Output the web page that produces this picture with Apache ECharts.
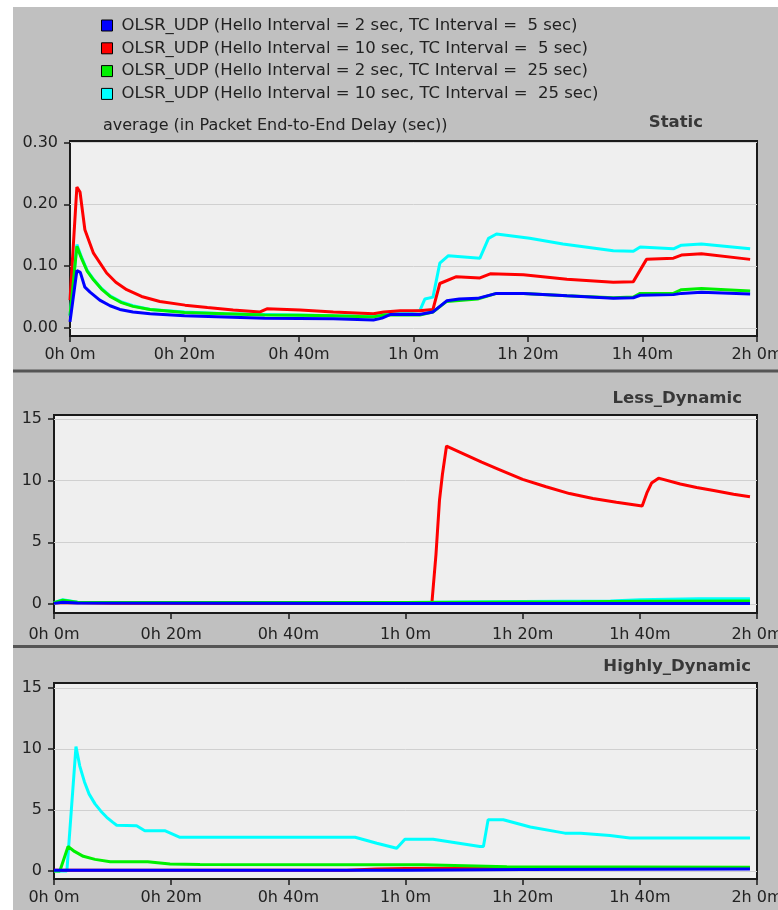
<!DOCTYPE html>
<html><head><meta charset="utf-8">
<script src="https://cdn.jsdelivr.net/npm/echarts@6/dist/echarts.min.js"></script>
<style>html,body{margin:0;padding:0;background:#fff}#c{width:778px;height:910px}</style>
</head><body><div id="c"></div>
<script>
// ---------- data ----------
const seriesNames = [
  'OLSR_UDP (Hello Interval = 2 sec, TC Interval =  5 sec)',
  'OLSR_UDP (Hello Interval = 10 sec, TC Interval =  5 sec)',
  'OLSR_UDP (Hello Interval = 2 sec, TC Interval =  25 sec)',
  'OLSR_UDP (Hello Interval = 10 sec, TC Interval =  25 sec)'
];
const seriesColors = ['#0000ff', '#ff0000', '#00f000', '#00ffff'];
const panelTitles = ['Static', 'Less_Dynamic', 'Highly_Dynamic'];
const yAxisTitle = 'average (in Packet End-to-End Delay (sec))';
const xTickValues = [0, 20, 40, 60, 80, 100, 120];
const xTickLabels = ['0h 0m', '0h 20m', '0h 40m', '1h 0m', '1h 20m', '1h 40m', '2h 0m'];
const staticYTicks = [0, 0.1, 0.2, 0.3];
const dynamicYTicks = [0, 5, 10, 15];

// time in minutes, value in seconds
const staticBlue = [[0,0.010],[1.2,0.093],[1.8,0.090],[2.6,0.066],[3.5,0.058],[5.2,0.045],[7,0.036],[8.7,0.030],[11,0.026],[14,0.023],[20,0.020],[27,0.018],[34,0.016],[40,0.0155],[46,0.015],[53,0.013],[54.5,0.016],[56,0.022],[58,0.022],[61,0.022],[63.4,0.026],[65.8,0.044],[68,0.047],[71.2,0.048],[74.5,0.056],[79.2,0.056],[86.8,0.052],[94.9,0.048],[98.4,0.049],[99.6,0.053],[105.4,0.054],[106.8,0.056],[110.3,0.058],[118.8,0.055]];
const staticRed = [[0,0.045],[1.2,0.228],[1.75,0.220],[2.6,0.159],[4.1,0.121],[6.4,0.089],[8,0.074],[9.9,0.062],[12.5,0.051],[15.7,0.043],[20.1,0.037],[24,0.033],[28.5,0.029],[33.2,0.026],[34.4,0.031],[40.2,0.029],[46,0.026],[53,0.023],[54.8,0.026],[57.7,0.028],[61,0.028],[63.4,0.030],[64.6,0.072],[67.5,0.083],[71.6,0.081],[73.4,0.0876],[79.2,0.086],[86.8,0.079],[94.9,0.074],[98.4,0.075],[100.7,0.111],[105.4,0.113],[106.8,0.118],[110.3,0.120],[118.8,0.111]];
const staticGreen = [[0,0.020],[1.2,0.132],[2,0.113],[3,0.092],[4.1,0.078],[5.5,0.063],[7,0.051],[9,0.041],[11,0.035],[14,0.030],[20,0.025],[27,0.023],[34,0.021],[40,0.0205],[46,0.020],[53,0.018],[55,0.021],[57,0.021],[61.1,0.021],[63.4,0.026],[65.8,0.043],[71.2,0.047],[74.5,0.056],[79.2,0.056],[86.8,0.052],[94.9,0.049],[98.4,0.050],[99.6,0.056],[105.4,0.056],[106.8,0.062],[110.3,0.064],[118.8,0.060]];
const staticCyan = [[0,0.020],[1.2,0.135],[2,0.115],[3,0.093],[4.1,0.079],[5.5,0.064],[7,0.052],[9,0.042],[11,0.036],[14,0.030],[20,0.026],[27,0.023],[34,0.022],[40,0.021],[46,0.020],[53,0.019],[55,0.024],[58,0.025],[61.1,0.028],[62,0.047],[63.4,0.050],[64.6,0.105],[66.1,0.117],[71.6,0.113],[73.1,0.145],[74.5,0.152],[80.3,0.145],[86.1,0.136],[94.9,0.125],[98.4,0.124],[99.6,0.131],[105.4,0.128],[106.8,0.134],[110.3,0.136],[118.8,0.128]];

const lessBlue = [[0,0.05],[1.5,0.15],[4,0.08],[60,0.05],[118.8,0.05]];
const lessRed = [[0,0.10],[2,0.12],[10,0.06],[30,0.05],[64.5,0.05],[65.2,4.0],[65.8,8.4],[66.3,10.5],[67,12.8],[70,12.15],[73,11.5],[76,10.9],[80,10.1],[84,9.5],[88,8.95],[92,8.55],[96,8.25],[100.4,7.95],[101.2,9.0],[102,9.8],[103.2,10.2],[106.9,9.73],[109.7,9.45],[112.6,9.2],[116,8.9],[118.8,8.7]];
const lessGreen = [[0,0.10],[1.5,0.30],[4,0.15],[30,0.12],[60,0.12],[90,0.18],[100,0.22],[118.8,0.25]];
const lessCyan = [[0,0.10],[1.5,0.35],[4,0.15],[30,0.12],[60,0.12],[80,0.20],[95,0.25],[100,0.35],[110,0.42],[118.8,0.42]];

const highBlue = [[0,0.05],[60,0.05],[80,0.12],[118.8,0.15]];
const highRed = [[0,0.05],[50,0.05],[55,0.15],[60,0.20],[80,0.25],[118.8,0.25]];
const highGreen = [[0,0],[1,0],[2.4,2.0],[3.5,1.6],[5,1.2],[7,0.95],[9.6,0.76],[16,0.76],[19.8,0.57],[24.9,0.52],[60,0.50],[63,0.50],[77.3,0.35],[118.8,0.30]];
const highCyan = [[0,0],[2.2,0],[3.75,10.2],[4.4,8.6],[5.2,7.3],[6,6.3],[7,5.5],[8,4.9],[9,4.4],[10,4.0],[10.7,3.75],[14.1,3.7],[15.5,3.3],[18.9,3.3],[21.5,2.76],[51.4,2.76],[55.1,2.27],[58.5,1.86],[59.9,2.6],[64.7,2.6],[72.7,2.0],[73.3,2.0],[74.1,4.2],[76.7,4.2],[81.3,3.6],[87.2,3.1],[89.9,3.1],[94.9,2.9],[98.3,2.7],[118.8,2.7]];

const panelData = [
  [staticBlue, staticRed, staticGreen, staticCyan],
  [lessBlue, lessRed, lessGreen, lessCyan],
  [highBlue, highRed, highGreen, highCyan]
];

// ---------- chart ----------
const FONT = 'DejaVu Sans';
const grids = [
  {left: 70, top: 141, width: 687, height: 195},
  {left: 54, top: 415, width: 703, height: 198},
  {left: 54, top: 683, width: 703, height: 196}
];
const yRanges = [[-0.0129, 0.3024], [-0.73, 15.32], [-0.66, 15.41]];
const yTicks = [staticYTicks, dynamicYTicks, dynamicYTicks];
const xLabelMargins = [11, 14, 11];

const seriesZ = [5, 3, 4, 2];
const series = [];
panelData.forEach((arr, p) => {
  arr.forEach((d, i) => {
    series.push({
      type: 'line', name: seriesNames[i], xAxisIndex: p, yAxisIndex: p,
      data: d, showSymbol: false, symbol: 'none', z: seriesZ[i],
      color: seriesColors[i],
      lineStyle: {width: 3, color: seriesColors[i]},
      itemStyle: {color: seriesColors[i]},
      animation: false
    });
  });
});

const titleStyle = {fontFamily: FONT, fontSize: 16.5, fontWeight: 'bold', color: '#383838', lineHeight: 22};
const option = {
  backgroundColor: '#c0c0c0',
  animation: false,
  title: [
    {text: yAxisTitle, left: 103, top: 116, padding: 0,
     textStyle: {fontFamily: FONT, fontSize: 16, fontWeight: 'normal', color: '#222', lineHeight: 20}},
    {text: panelTitles[0], right: 75, top: 112, padding: 0, textStyle: titleStyle},
    {text: panelTitles[1], right: 36, top: 388, padding: 0, textStyle: titleStyle},
    {text: panelTitles[2], right: 27, top: 656, padding: 0, textStyle: titleStyle}
  ],
  legend: {
    data: seriesNames, orient: 'vertical', left: 101, top: 17, padding: 0,
    icon: 'rect', itemWidth: 11, itemHeight: 11, itemGap: 5.8,
    itemStyle: {borderColor: '#000', borderWidth: 1},
    selectedMode: false,
    textStyle: {fontFamily: FONT, fontSize: 16.5, color: '#222', lineHeight: 17, padding: [0, 0, 0, 4]}
  },
  graphic: [
    {type: 'rect', shape: {x: 0, y: 0, width: 778, height: 7}, style: {fill: '#fff'}, silent: true},
    {type: 'rect', shape: {x: 0, y: 0, width: 13, height: 910}, style: {fill: '#fff'}, silent: true},
    {type: 'rect', shape: {x: 13, y: 369.5, width: 765, height: 3}, style: {fill: '#555'}, silent: true},
    {type: 'rect', shape: {x: 13, y: 645, width: 765, height: 3}, style: {fill: '#555'}, silent: true}
  ],
  grid: grids.map(g => Object.assign({show: true, backgroundColor: '#efefef', borderColor: '#1a1a1a', borderWidth: 2, containLabel: false, outerBoundsMode: 'none'}, g)),
  xAxis: grids.map((g, p) => ({
    type: 'value', gridIndex: p, min: 0, max: 120, interval: 20,
    axisLine: {show: false, onZero: false},
    axisTick: {show: true, length: 6, lineStyle: {color: '#1a1a1a', width: 1.5}},
    splitLine: {show: false},
    axisLabel: {fontFamily: FONT, fontSize: 16, color: '#222', margin: xLabelMargins[p], hideOverlap: false,
      formatter: v => { const k = xTickValues.indexOf(v); return k >= 0 ? xTickLabels[k] : ''; }}
  })),
  yAxis: grids.map((g, p) => ({
    type: 'value', gridIndex: p, min: yRanges[p][0], max: yRanges[p][1],
    axisLine: {show: false},
    axisTick: {show: true, length: 6, customValues: yTicks[p], lineStyle: {color: '#1a1a1a', width: 1.5}},
    splitLine: {show: true, lineStyle: {color: '#d0d0d0', width: 1}},
    axisLabel: {fontFamily: FONT, fontSize: 16, color: '#222', margin: 12, customValues: yTicks[p],
      formatter: v => p === 0 ? v.toFixed(2) : String(v)}
  })),
  series: series
};

const chart = echarts.init(document.getElementById('c'), null, {renderer: 'canvas'});
chart.setOption(option);
</script>
</body></html>
